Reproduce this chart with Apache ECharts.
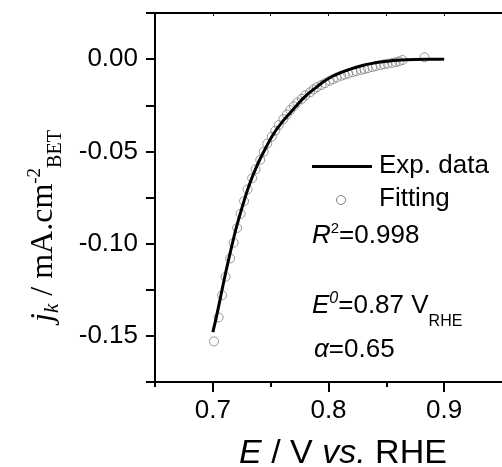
<!DOCTYPE html>
<html>
<head>
<meta charset="utf-8">
<script src="https://cdn.jsdelivr.net/npm/echarts@6/dist/echarts.min.js"></script>
<style>
  html, body { margin: 0; padding: 0; background: #fff; }
  #chart { width: 502px; height: 467px; }
</style>
</head>
<body>
<div id="chart"></div>
<script>
// experimental curve (solid line)
const expE = [0.700, 0.703, 0.707, 0.711, 0.715, 0.720, 0.725, 0.731, 0.738, 0.745, 0.752, 0.760, 0.767, 0.774,
  0.781, 0.788, 0.795, 0.802, 0.810, 0.817, 0.824, 0.831, 0.838, 0.845, 0.853, 0.862, 0.875, 0.890, 0.900];
const expJ = [-0.148, -0.140, -0.128, -0.116, -0.105, -0.092, -0.081, -0.069, -0.058, -0.049, -0.041, -0.034, -0.029, -0.024,
  -0.0195, -0.016, -0.0125, -0.0098, -0.0075, -0.0058, -0.0044, -0.0032, -0.0023, -0.0016, -0.0010, -0.0005, -0.0002, -0.0001, 0.0000];

// fitted points (open circles)
const fitE = [0.701, 0.705, 0.708, 0.711, 0.715, 0.718, 0.721, 0.724, 0.727, 0.730, 0.734, 0.737, 0.741, 0.744, 0.747,
  0.751, 0.754, 0.757, 0.761, 0.764, 0.767, 0.770, 0.773, 0.777, 0.780, 0.784, 0.787, 0.790, 0.794, 0.797, 0.801,
  0.804, 0.807, 0.811, 0.814, 0.817, 0.821, 0.824, 0.828, 0.831, 0.834, 0.838, 0.841, 0.845, 0.848, 0.851, 0.855,
  0.858, 0.861, 0.864, 0.883];
const fitJ = [-0.153, -0.140, -0.128, -0.118, -0.108, -0.0995, -0.0915, -0.0838, -0.0770, -0.0706, -0.0645, -0.0597, -0.0546, -0.0502, -0.0458,
  -0.0420, -0.0388, -0.0358, -0.0325, -0.0300, -0.0276, -0.0255, -0.0235, -0.0215, -0.0196, -0.0180, -0.0164, -0.0152, -0.0140, -0.0130, -0.0117,
  -0.0109, -0.0100, -0.0090, -0.0084, -0.0078, -0.0071, -0.0065, -0.0059, -0.0054, -0.0049, -0.0043, -0.0038, -0.0033, -0.0028, -0.0025, -0.0020,
  -0.0016, -0.0012, -0.0005, 0.0010];

const xLabels = [0.7, 0.8, 0.9];
const xMinorTicks = [0.65, 0.75, 0.85];
const xTopTicks = [0.65, 0.7, 0.75, 0.8, 0.85, 0.9];
const yLabels = [-0.15, -0.10, -0.05, 0.00];

const sans = '"Liberation Sans", Arial, sans-serif';
const serif = '"Liberation Serif", "Times New Roman", serif';
const black = '#000';
const circleColor = '#808080';

const chart = echarts.init(document.getElementById('chart'), null, { renderer: 'canvas' });

const textRich = (size) => ({
  i: { fontFamily: sans, fontSize: size, fontStyle: 'italic', fill: black },
  n: { fontFamily: sans, fontSize: size, fill: black },
  sup: { fontFamily: sans, fontSize: 15, fill: black, padding: [0, 0, 14, 0] },
  isup: { fontFamily: sans, fontSize: 16, fontStyle: 'italic', fill: black, padding: [0, 0, 14, 0] },
  sub: { fontFamily: sans, fontSize: 16, fill: black, padding: [32, 0, 0, 0] }
});

chart.setOption({
  animation: false,
  backgroundColor: '#fff',
  grid: { left: 155, top: 13, right: -4, bottom: 85 },
  xAxis: [
    {
      type: 'value', min: 0.65, max: 0.95, position: 'bottom',
      axisLine: { show: true, onZero: false, lineStyle: { color: black, width: 2 } },
      axisTick: { show: true, customValues: xLabels, length: 10, lineStyle: { color: black, width: 2 } },
      axisLabel: { customValues: xLabels, formatter: (v) => v.toFixed(1), fontFamily: sans, fontSize: 26, color: black, margin: 16 },
      splitLine: { show: false }
    },
    {
      type: 'value', min: 0.65, max: 0.95, position: 'bottom',
      axisLine: { show: false, onZero: false },
      axisTick: { show: true, customValues: xMinorTicks, length: 5, lineStyle: { color: black, width: 2 } },
      axisLabel: { show: false },
      splitLine: { show: false }
    },
    {
      type: 'value', min: 0.65, max: 0.95, position: 'top',
      axisLine: { show: true, onZero: false, lineStyle: { color: black, width: 2 } },
      axisTick: { show: true, inside: true, customValues: xTopTicks, length: 3, lineStyle: { color: black, width: 1 } },
      axisLabel: { show: false },
      splitLine: { show: false }
    }
  ],
  yAxis: {
    type: 'value', min: -0.175, max: 0.025, interval: 0.025,
    axisLine: { show: true, onZero: false, lineStyle: { color: black, width: 2 } },
    axisTick: { show: true, length: 9, lineStyle: { color: black, width: 2 } },
    axisLabel: { customValues: yLabels, formatter: (v) => v.toFixed(2), fontFamily: sans, fontSize: 26, color: black, margin: 17 },
    splitLine: { show: false }
  },
  series: [
    {
      name: 'Fitting', type: 'scatter', xAxisIndex: 0,
      data: fitE.map((e, i) => [e, fitJ[i]]),
      symbol: 'circle', symbolSize: 9,
      itemStyle: { color: 'rgba(0,0,0,0)', borderColor: circleColor, borderWidth: 1 },
      z: 2
    },
    {
      name: 'Exp. data', type: 'line', xAxisIndex: 0,
      data: expE.map((e, i) => [e, expJ[i]]),
      showSymbol: false, symbol: 'none', smooth: 0.3,
      lineStyle: { color: black, width: 3 },
      z: 3
    }
  ],
  graphic: [
    // legend
    { type: 'line', shape: { x1: 312, y1: 166.5, x2: 372, y2: 166.5 }, style: { stroke: black, lineWidth: 3 } },
    { type: 'circle', shape: { cx: 341, cy: 200, r: 4.5 }, style: { fill: 'none', stroke: circleColor, lineWidth: 1 } },
    { type: 'text', x: 379, y: 166, style: { text: 'Exp. data', font: '26px ' + sans, fill: black, verticalAlign: 'middle' } },
    { type: 'text', x: 379, y: 198.5, style: { text: 'Fitting', font: '26px ' + sans, fill: black, verticalAlign: 'middle' } },
    // annotations
    { type: 'text', x: 312, y: 236, style: { text: '{i|R}{sup|2}{n|=0.998}', rich: textRich(26), verticalAlign: 'middle' } },
    { type: 'text', x: 312, y: 305.5, style: { text: '{i|E}{isup|0}{n|=0.87 V}{sub|RHE}', rich: textRich(26), verticalAlign: 'middle' } },
    { type: 'text', x: 314, y: 350, style: { text: '{i|α}{n|=0.65}', rich: textRich(26), verticalAlign: 'middle' } },
    // axis titles
    {
      type: 'text', x: 343, y: 454,
      style: { text: '{i|E}{n| / V }{i|vs.}{n| RHE}', rich: textRich(34), align: 'center', verticalAlign: 'middle' }
    },
    {
      type: 'text', x: 44, y: 226, rotation: Math.PI / 2,
      style: {
        text: '{i|j}{ks|k}{n| / mA.cm}{sp|-2}{sb|BET}',
        align: 'center', verticalAlign: 'middle',
        rich: {
          i: { fontFamily: serif, fontSize: 32, fontStyle: 'italic', fill: black },
          ks: { fontFamily: serif, fontSize: 21, fontStyle: 'italic', fill: black, padding: [16, 0, 0, 0] },
          n: { fontFamily: serif, fontSize: 32, fill: black },
          sp: { fontFamily: serif, fontSize: 19, fill: black, padding: [0, 0, 18, 0] },
          sb: { fontFamily: serif, fontSize: 20, fill: black, padding: [24, 0, 0, 0] }
        }
      }
    }
  ]
});
</script>
</body>
</html>
